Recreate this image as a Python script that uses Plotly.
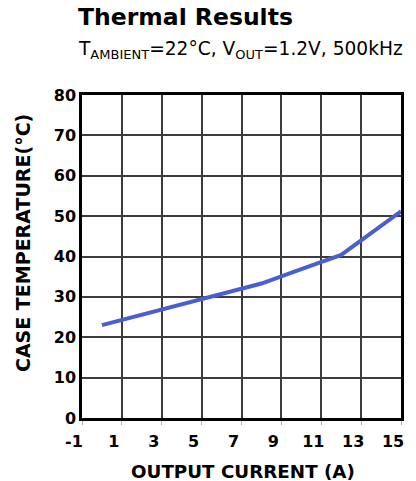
import plotly.graph_objects as go

# Data
output_current = [0, 5, 8, 10, 12, 15]
case_temp = [23.0, 29.5, 33.3, 36.9, 40.4, 51.2]
x_ticks = [-1, 1, 3, 5, 7, 9, 11, 13, 15]
y_ticks = [0, 10, 20, 30, 40, 50, 60, 70, 80]

OFF = 8  # page body margin
W, H = 416 - OFF, 481 - OFF
L, R, T, B = 82 - OFF, 12, 95 - OFF, 63
pw, ph = W - L - R, H - T - B

def px(x):
    return (x - OFF - L) / pw

def py(y):
    return (H - B - (y - OFF)) / ph

bold = "DejaVu Sans"
fig = go.Figure()
fig.add_trace(go.Scatter(
    x=output_current, y=case_temp, mode="lines",
    line=dict(color="#4a5fcf", width=4), showlegend=False,
))

fig.update_layout(
    width=W, height=H,
    margin=dict(l=L, r=R, t=T, b=B),
    paper_bgcolor="white", plot_bgcolor="white",
    font=dict(family=bold, color="black"),
)
fig.update_xaxes(
    range=[-1, 15], tickvals=x_ticks, ticktext=[str(v) for v in x_ticks],
    showgrid=True, gridcolor="#3c3c3c", gridwidth=1.5,
    showline=True, linecolor="black", linewidth=2.5, mirror=True,
    ticks="outside", ticklen=4, tickcolor="#a8b4bc", tickwidth=1,
    tickfont=dict(family=bold, size=16, weight="bold"),
    ticklabelshift=-8, ticklabelstandoff=3,
    zeroline=False,
)
fig.update_yaxes(
    range=[0, 80], tickvals=y_ticks,
    showgrid=True, gridcolor="#3c3c3c", gridwidth=1.5,
    showline=True, linecolor="black", linewidth=2.5, mirror=True,
    ticks="", tickfont=dict(family=bold, size=16, weight="bold"),
    ticklabelstandoff=0,
    zeroline=False,
)

ann = [
    dict(text="<b>Thermal Results</b>", x=px(76), y=py(17), xanchor="left", yanchor="middle",
         font=dict(family=bold, size=23.5)),
    dict(text="T<sub>AMBIENT</sub>=22°C, V<sub>OUT</sub>=1.2V, 500kHz", x=px(76), y=py(50),
         xanchor="left", yanchor="middle", font=dict(family="DejaVu Sans", size=18.6)),
    dict(text="<b>OUTPUT CURRENT (A)</b>", x=px(245), y=py(471), xanchor="center", yanchor="middle",
         font=dict(family=bold, size=18.3)),
    dict(text="<b>CASE TEMPERATURE(°C)</b>", x=px(22.5), y=py(243), xanchor="center", yanchor="middle",
         textangle=-90, font=dict(family=bold, size=19)),
]
for a in ann:
    a.update(xref="paper", yref="paper", showarrow=False)
fig.update_layout(annotations=ann)

fig.write_html("out.html")
